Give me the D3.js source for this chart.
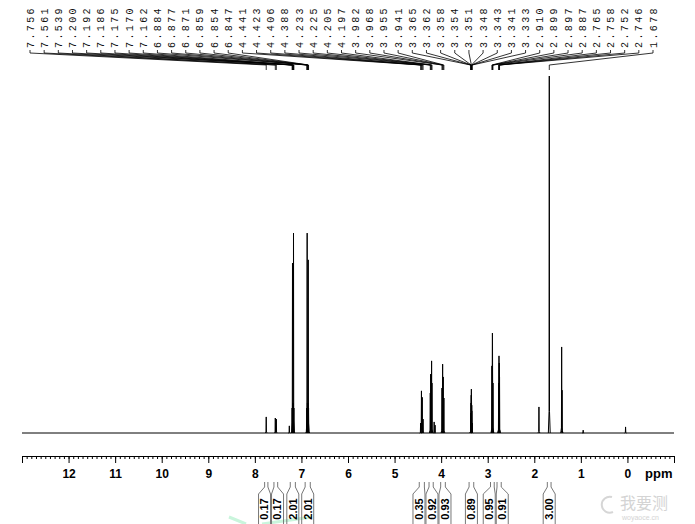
<!DOCTYPE html>
<html lang="en">
	<head>
		<meta charset="UTF-8" />
		<title>1H NMR spectrum</title>
		<script src="https://d3js.org/d3.v7.min.js"></script>
		<style>
			body {
				margin: 0;
				padding: 0;
				background: #fff;
			}

			.peak-label {
				font-family: "Liberation Mono", "DejaVu Sans Mono", monospace;
				font-size: 10px;
				letter-spacing: 2.4px;
				fill: #111;
			}

			.axis text {
				font-family: "Liberation Sans", Arial, sans-serif;
				font-size: 12px;
				font-weight: bold;
				fill: #000;
			}

			.int-label {
				font-family: "Liberation Sans", Arial, sans-serif;
				font-size: 11px;
				font-weight: bold;
				fill: #000;
			}
		</style>
	</head>
	<body>
		<svg width="695" height="524"></svg>
		<script>
			const width = 695;
			const height = 524;

			// labelled peaks (ppm) and their heights relative to the 1.678 singlet
			const labelShifts = [
				7.756, 7.561, 7.539, 7.2, 7.192, 7.186, 7.175, 7.17, 7.162, 6.884,
				6.877, 6.871, 6.859, 6.854, 6.847, 4.441, 4.423, 4.406, 4.388, 4.233,
				4.225, 4.205, 4.197, 3.982, 3.968, 3.955, 3.941, 3.365, 3.362, 3.358,
				3.354, 3.351, 3.348, 3.343, 3.341, 3.333, 2.91, 2.899, 2.897, 2.887,
				2.765, 2.758, 2.752, 2.746, 1.678,
			];
			const labelHeights = [
				0.045, 0.042, 0.039, 0.07, 0.476, 0.084, 0.084, 0.56, 0.07, 0.07,
				0.56, 0.084, 0.084, 0.485, 0.07, 0.028, 0.118, 0.1, 0.039, 0.112,
				0.165, 0.202, 0.14, 0.126, 0.193, 0.157, 0.098, 0.034, 0.056, 0.084,
				0.106, 0.123, 0.1, 0.078, 0.062, 0.028, 0.188, 0.28, 0.252, 0.14,
				0.14, 0.216, 0.196, 0.157, 1.0,
			];

			// unlabelled peaks (solvent, impurities, TMS)
			const extraShifts = [7.26, 4.15, 4.13, 1.9, 1.412, 1.404, 0.95, 0.04];
			const extraHeights = [0.02, 0.031, 0.022, 0.073, 0.241, 0.12, 0.008, 0.017];

			// integrals: ranges (ppm) and values
			const intFrom = [7.79, 7.59, 7.24, 6.92, 4.47, 4.26, 4.01, 3.4, 2.94, 2.8, 1.72];
			const intTo = [7.72, 7.51, 7.13, 6.81, 4.36, 4.17, 3.91, 3.3, 2.86, 2.71, 1.64];
			const intValues = ["0.17", "0.17", "2.01", "2.01", "0.35", "0.92", "0.93", "0.89", "0.95", "0.91", "3.00"];

			const axisTicks = d3.range(13, -2, -1);
			const minorTicks = d3.range(130, -11, -1).map((d) => d / 10);

			const svg = d3.select("svg").attr("width", width).attr("height", height);

			const x = d3.scaleLinear().domain([13, -1]).range([22, 674]);
			const y = d3.scaleLinear().domain([0, 1]).range([433, 76]);

			// watermark (drawn first, sits behind everything)
			svg
				.append("path")
				.attr("d", "M229,517L246,524M262,524L312,517")
				.style("stroke", "#c9f5dc")
				.style("stroke-width", 3)
				.style("fill", "none");

			svg
				.append("path")
				.attr("d", "M612,497A8,8 0 1,0 613,512")
				.style("stroke", "#d6d6d6")
				.style("stroke-width", 2)
				.style("fill", "none");

			svg
				.append("text")
				.attr("x", 620)
				.attr("y", 509)
				.style("font-family", "Noto Sans CJK SC")
				.style("font-size", "16px")
				.style("fill", "#d4d4d4")
				.text("我要测");

			svg
				.append("text")
				.attr("x", 622)
				.attr("y", 520)
				.style("font-family", "Liberation Sans, Arial, sans-serif")
				.style("font-size", "7px")
				.style("fill", "#d4d4d4")
				.text("woyaoce.cn");

			const peaks = labelShifts
				.map((p, i) => ({ ppm: p, h: labelHeights[i] }))
				.concat(extraShifts.map((p, i) => ({ ppm: p, h: extraHeights[i] })));

			// baseline
			svg
				.append("line")
				.attr("x1", x(13))
				.attr("x2", x(-1))
				.attr("y1", y(0))
				.attr("y2", y(0))
				.style("stroke", "#000")
				.style("stroke-width", 1);

			// peaks as narrow spikes
			const spike = d3
				.line()
				.x((d) => x(d[0]))
				.y((d) => y(d[1]));

			svg
				.append("g")
				.selectAll("path")
				.data(peaks)
				.enter()
				.append("path")
				.attr("d", (d) =>
					spike([
						[d.ppm + 0.02, 0],
						[d.ppm + 0.005, d.h * 0.06],
						[d.ppm, d.h],
						[d.ppm - 0.005, d.h * 0.06],
						[d.ppm - 0.02, 0],
					])
				)
				.style("fill", "none")
				.style("stroke", "#000")
				.style("stroke-width", 1);

			// peak labels spread across the top
			const lx = d3
				.scalePoint()
				.domain(d3.range(labelShifts.length))
				.range([30, 653]);

			const labels = svg.append("g");

			labels
				.selectAll("text")
				.data(labelShifts)
				.enter()
				.append("text")
				.attr("class", "peak-label")
				.attr("transform", (d, i) => `translate(${lx(i)},48) rotate(-90)`)
				.attr("dy", "0.35em")
				.text((d) => d.toFixed(3));

			labels
				.selectAll("path")
				.data(labelShifts)
				.enter()
				.append("path")
				.attr("d", (d, i) => `M${lx(i)},50V53L${x(d)},65V70`)
				.style("fill", "none")
				.style("stroke", "#000")
				.style("stroke-width", 0.8);

			// axis
			const axisG = svg
				.append("g")
				.attr("class", "axis")
				.attr("transform", "translate(0,456)");

			axisG.call(
				d3
					.axisBottom(x)
					.tickValues(minorTicks)
					.tickSize(3)
					.tickSizeOuter(0)
					.tickFormat("")
			);

			axisG
				.append("g")
				.call(
					d3
						.axisBottom(x)
						.tickValues(axisTicks)
						.tickSize(7)
						.tickSizeOuter(0)
						.tickPadding(6)
						.tickFormat((d) => (d === 13 || d === -1 ? "" : d))
				)
				.select(".domain")
				.remove();

			axisG.selectAll("line").style("stroke", "#000");
			axisG.selectAll(".domain").style("stroke", "#000");

			svg
				.append("text")
				.attr("x", 645)
				.attr("y", 478)
				.style("font-family", "Liberation Sans, Arial, sans-serif")
				.style("font-size", "13px")
				.style("font-weight", "bold")
				.text("ppm");

			// integral tags below the axis
			function spread(xs, gap) {
				let groups = xs.map((v) => ({ sum: v, n: 1, c: v }));
				let merged = true;
				while (merged) {
					merged = false;
					for (let i = 0; i < groups.length - 1; i++) {
						const a = groups[i];
						const b = groups[i + 1];
						const aEnd = a.c + ((a.n - 1) * gap) / 2;
						const bStart = b.c - ((b.n - 1) * gap) / 2;
						if (bStart - aEnd < gap) {
							const g = { sum: a.sum + b.sum, n: a.n + b.n };
							g.c = g.sum / g.n;
							groups.splice(i, 2, g);
							merged = true;
							break;
						}
					}
				}
				const out = [];
				groups.forEach((g) => {
					for (let k = 0; k < g.n; k++) out.push(g.c + (k - (g.n - 1) / 2) * gap);
				});
				return out;
			}

			const centers = spread(
				intFrom.map((f, i) => x((f + intTo[i]) / 2)),
				13
			);

			const tags = svg
				.append("g")
				.selectAll("g")
				.data(intValues)
				.enter()
				.append("g");

			tags
				.append("path")
				.attr("d", (d, i) => {
					const xa = x(intFrom[i]);
					const xb = x(intTo[i]);
					const c = centers[i];
					return `M${xa},482V487L${c - 6},494V530M${xb},482V487L${c + 6},494V530`;
				})
				.style("fill", "none")
				.style("stroke", "#777")
				.style("stroke-width", 1);

			tags
				.append("text")
				.attr("class", "int-label")
				.attr("transform", (d, i) => `translate(${centers[i]},509) rotate(-90)`)
				.attr("text-anchor", "middle")
				.attr("dy", "0.35em")
				.text((d) => d);
		</script>
	</body>
</html>
